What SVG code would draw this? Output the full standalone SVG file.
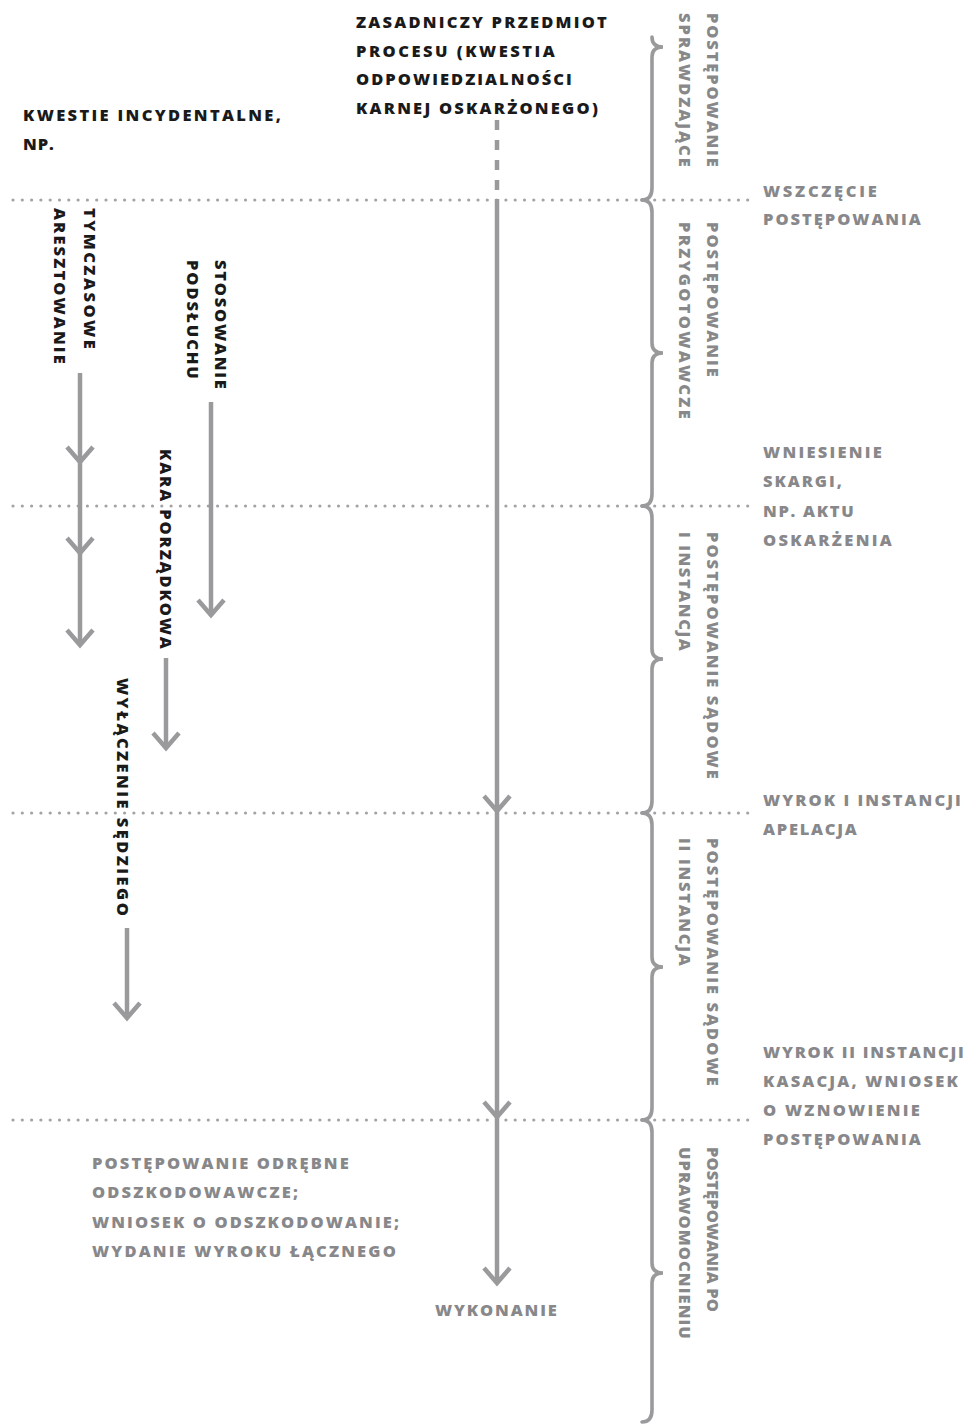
<svg xmlns="http://www.w3.org/2000/svg" width="970" height="1424" viewBox="0 0 970 1424">
<style>
  text { font-family: "Open Sans", Lato, "Liberation Sans", sans-serif; font-size: 16.5px; font-weight: 800; letter-spacing: 1.2px; }
  .k { fill: #1a1a1a; }
  .g { fill: #88888b; }
  .dot { stroke: #a3a3a5; stroke-width: 3.2; stroke-linecap: round; stroke-dasharray: 0 9.3; fill: none; }
  .ln { stroke: #9a9a9c; stroke-width: 4.5; fill: none; }
  .hd { stroke: #9a9a9c; stroke-width: 4.5; fill: none; stroke-linejoin: miter; }
  .br { stroke: #9a9a9c; stroke-width: 3.6; fill: none; stroke-linecap: round; }
</style>
<rect width="970" height="1424" fill="#ffffff"/>

<g id="separators">
  <line class="dot" x1="13" y1="200" x2="748" y2="200"/>
  <line class="dot" x1="13" y1="506" x2="748" y2="506"/>
  <line class="dot" x1="13" y1="813" x2="748" y2="813"/>
  <line class="dot" x1="13" y1="1120" x2="748" y2="1120"/>
</g>

<g id="braces">
  <path class="br" d="M652 37 Q652 47 663 47 Q652 47 652 57 L652 188 Q652 200 642 200"/>
  <path class="br" d="M642 200 Q652 200 652 212 L652 343 Q652 353 663 353 Q652 353 652 363 L652 494 Q652 506 642 506"/>
  <path class="br" d="M642 506 Q652 506 652 518 L652 649 Q652 659 663 659 Q652 659 652 669 L652 801 Q652 813 642 813"/>
  <path class="br" d="M642 813 Q652 813 652 825 L652 957 Q652 967 663 967 Q652 967 652 977 L652 1108 Q652 1120 642 1120"/>
  <path class="br" d="M642 1120 Q652 1120 652 1132 L652 1263 Q652 1273 663 1273 Q652 1273 652 1283 L652 1410 Q652 1422 642 1422"/>
</g>

<g id="connectors">
  <path class="ln" d="M497 120 V130 M497 140 V150 M497 160 V170 M497 180 V190 M497 199 V1282"/>
  <path class="hd" d="M484 796 L497 811 L510 796"/>
  <path class="hd" d="M484 1102 L497 1117 L510 1102"/>
  <path class="hd" d="M484 1268 L497 1283 L510 1268"/>
  <path class="ln" d="M80 373 V644"/>
  <path class="hd" d="M67 447 L80 462 L93 447"/>
  <path class="hd" d="M67 538 L80 553 L93 538"/>
  <path class="hd" d="M67 630 L80 645 L93 630"/>
  <path class="ln" d="M211 402 V614"/>
  <path class="hd" d="M198 600 L211 615 L224 600"/>
  <path class="ln" d="M166 658 V747"/>
  <path class="hd" d="M153 733 L166 748 L179 733"/>
  <path class="ln" d="M127 928 V1017"/>
  <path class="hd" d="M114 1003 L127 1018 L140 1003"/>
</g>

<g id="node-kwestie-incydentalne">
  <text class="k" x="23" y="121" textLength="259">KWESTIE INCYDENTALNE,</text>
  <text class="k" x="23" y="150" textLength="32">NP.</text>
</g>

<g id="node-zasadniczy-przedmiot">
  <text class="k" x="356" y="28" textLength="252">ZASADNICZY PRZEDMIOT</text>
  <text class="k" x="356" y="57" textLength="200">PROCESU (KWESTIA</text>
  <text class="k" x="356" y="85" textLength="217">ODPOWIEDZIALNOŚCI</text>
  <text class="k" x="356" y="114" textLength="243">KARNEJ OSKARŻONEGO)</text>
</g>

<g id="node-tymczasowe-aresztowanie">
  <text class="k" transform="translate(84,208) rotate(90)" textLength="142">TYMCZASOWE</text>
  <text class="k" transform="translate(54,208) rotate(90)" textLength="157">ARESZTOWANIE</text>
</g>

<g id="node-stosowanie-podsluchu">
  <text class="k" transform="translate(215,260) rotate(90)" textLength="130">STOSOWANIE</text>
  <text class="k" transform="translate(187,260) rotate(90)" textLength="120">PODSŁUCHU</text>
</g>

<g id="node-kara-porzadkowa">
  <text class="k" transform="translate(160,449) rotate(90)" textLength="201">KARA PORZĄDKOWA</text>
</g>

<g id="node-wylaczenie-sedziego">
  <text class="k" transform="translate(117,678) rotate(90)" textLength="239">WYŁĄCZENIE SĘDZIEGO</text>
</g>

<g id="node-postepowanie-sprawdzajace">
  <text class="g" transform="translate(707,13) rotate(90)" textLength="155">POSTĘPOWANIE</text>
  <text class="g" transform="translate(679,13) rotate(90)" textLength="155">SPRAWDZAJĄCE</text>
</g>

<g id="node-postepowanie-przygotowawcze">
  <text class="g" transform="translate(707,222) rotate(90)" textLength="156">POSTĘPOWANIE</text>
  <text class="g" transform="translate(679,222) rotate(90)" textLength="198">PRZYGOTOWAWCZE</text>
</g>

<g id="node-postepowanie-sadowe-1">
  <text class="g" transform="translate(707,532) rotate(90)" textLength="248">POSTĘPOWANIE SĄDOWE</text>
  <text class="g" transform="translate(679,532) rotate(90)" textLength="120">I INSTANCJA</text>
</g>

<g id="node-postepowanie-sadowe-2">
  <text class="g" transform="translate(707,838) rotate(90)" textLength="249">POSTĘPOWANIE SĄDOWE</text>
  <text class="g" transform="translate(679,838) rotate(90)" textLength="129">II INSTANCJA</text>
</g>

<g id="node-postepowania-po-uprawomocnieniu">
  <text class="g" transform="translate(707,1147) rotate(90)" textLength="166">POSTĘPOWANIA PO</text>
  <text class="g" transform="translate(679,1147) rotate(90)" textLength="193">UPRAWOMOCNIENIU</text>
</g>

<g id="node-wszczecie">
  <text class="g" x="763" y="197" textLength="115">WSZCZĘCIE</text>
  <text class="g" x="763" y="225" textLength="159">POSTĘPOWANIA</text>
</g>

<g id="node-wniesienie-skargi">
  <text class="g" x="763" y="458" textLength="120">WNIESIENIE</text>
  <text class="g" x="763" y="487" textLength="80">SKARGI,</text>
  <text class="g" x="763" y="517" textLength="92">NP. AKTU</text>
  <text class="g" x="763" y="546" textLength="130">OSKARŻENIA</text>
</g>

<g id="node-wyrok-1">
  <text class="g" x="763" y="806" textLength="199">WYROK I INSTANCJI</text>
  <text class="g" x="763" y="835" textLength="95">APELACJA</text>
</g>

<g id="node-wyrok-2">
  <text class="g" x="763" y="1058" textLength="202">WYROK II INSTANCJI</text>
  <text class="g" x="763" y="1087" textLength="196">KASACJA, WNIOSEK</text>
  <text class="g" x="763" y="1116" textLength="158">O WZNOWIENIE</text>
  <text class="g" x="763" y="1145" textLength="159">POSTĘPOWANIA</text>
</g>

<g id="node-postepowanie-odrebne">
  <text class="g" x="92" y="1169" textLength="258">POSTĘPOWANIE ODRĘBNE</text>
  <text class="g" x="92" y="1198" textLength="207">ODSZKODOWAWCZE;</text>
  <text class="g" x="92" y="1228" textLength="308">WNIOSEK O ODSZKODOWANIE;</text>
  <text class="g" x="92" y="1257" textLength="305">WYDANIE WYROKU ŁĄCZNEGO</text>
</g>

<g id="node-wykonanie">
  <text class="g" x="435" y="1316" textLength="123">WYKONANIE</text>
</g>
</svg>
